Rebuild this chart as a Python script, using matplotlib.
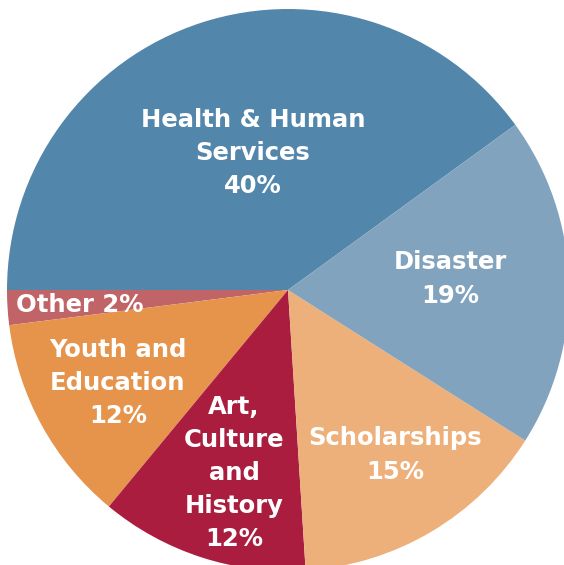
import matplotlib
matplotlib.use('Agg')
import matplotlib.pyplot as plt

# Доли по направлениям (в процентах), порядок против часовой стрелки
categories = ['Health & Human\nServices', 'Other', 'Youth and\nEducation',
              'Art,\nCulture\nand\nHistory', 'Scholarships', 'Disaster']
values = [40, 2, 12, 12, 15, 19]
colors = ['#5386ab', '#c06468', '#e6944c', '#aa1d3f', '#edb07b', '#82a3bd']

# Положение подписей в пикселях исходной картинки (центр текста)
label_px = [(253, 153), (80, 305), (118, 383), (234, 473), (395, 455), (450, 279)]

W, H = 564, 565
cx, cy, r = 288, 290, 281

fig = plt.figure(figsize=(W / 100, H / 100), dpi=100)
ax = fig.add_axes([0, 0, 1, 1])
ax.pie(values, colors=colors, startangle=36, counterclock=True,
       radius=1, center=(0, 0), wedgeprops=dict(linewidth=0))
ax.set_xlim(-cx / r, (W - cx) / r)
ax.set_ylim(-(H - cy) / r, cy / r)
ax.set_aspect('equal')
ax.axis('off')

for name, val, (px, py) in zip(categories, values, label_px):
    if name == 'Other':
        txt = f'{name} {val}%'
    else:
        txt = f'{name}\n{val}%'
    ax.text((px - cx) / r, (cy - py) / r, txt, ha='center', va='center',
            color='white', fontsize=17.5, fontweight='bold', family='DejaVu Sans',
            linespacing=1.48)

plt.savefig('out.png', dpi=100)
